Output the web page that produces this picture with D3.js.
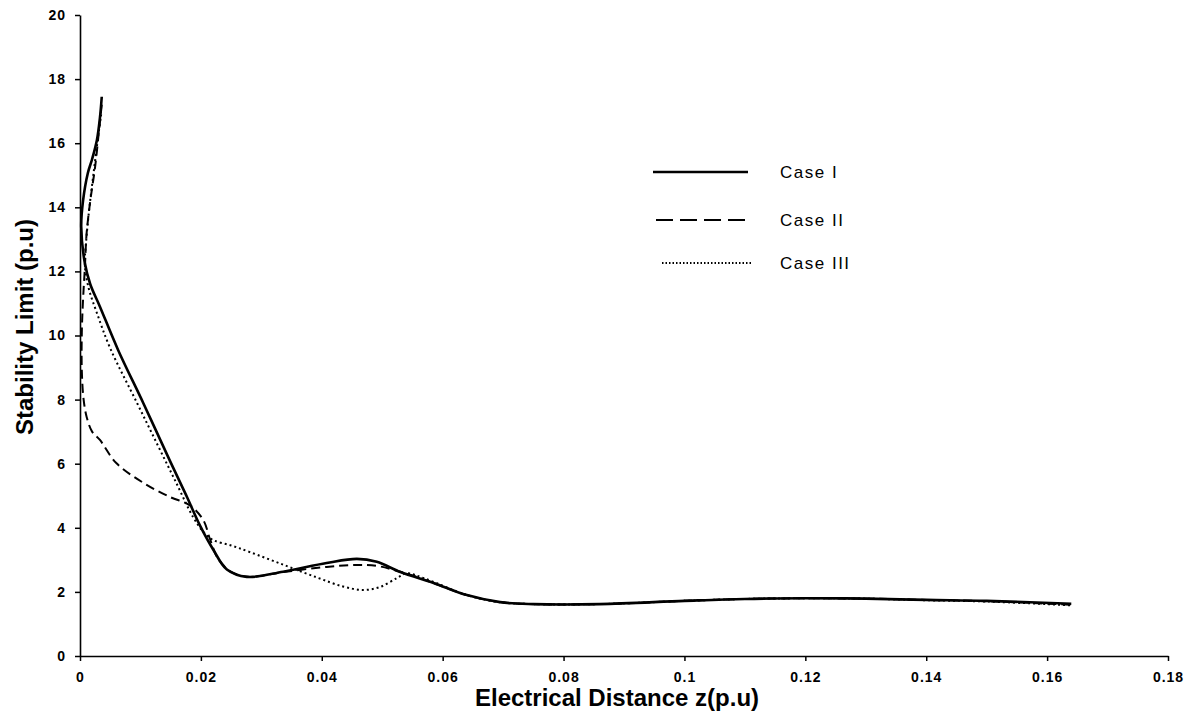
<!DOCTYPE html>
<html>
<head>
<meta charset="utf-8">
<script src="https://cdn.jsdelivr.net/npm/d3@7"></script>
<style>
  body { margin: 0; background: #fff; }
  svg { display: block; }
</style>
</head>
<body>
<div id="chart"></div>
<script>
///////////////////////////////////////////////////////////////////////////
/////////////////// data ////////////////////
///////////////////////////////////////////////////////////////////////////
var zCase1 = [0.0036, 0.0033, 0.0028, 0.0020, 0.0013, 0.0005, 0.0002, 0.0008, 0.0017, 0.0033,
  0.0063, 0.0105, 0.0149, 0.0177, 0.0199, 0.0221, 0.0243, 0.0276, 0.0336, 0.0408,
  0.0458, 0.0491, 0.0530, 0.0585, 0.0640, 0.0695, 0.0750, 0.0860, 0.1000, 0.1100,
  0.1200, 0.1300, 0.1400, 0.1500, 0.1640];
var limCase1 = [17.45, 16.8, 16.1, 15.5, 15.07, 14.2, 13.4, 12.26, 11.6, 10.9,
  9.55, 7.88, 6.08, 4.96, 4.05, 3.3, 2.7, 2.47, 2.63, 2.9,
  3.03, 2.94, 2.62, 2.28, 1.9, 1.68, 1.62, 1.62, 1.72, 1.78,
  1.8, 1.79, 1.75, 1.72, 1.63];

var zCase2 = [0.0036, 0.0032, 0.0025, 0.0017, 0.0011, 0.0008, 0.0005, 0.0003, 0.0003, 0.0006,
  0.0011, 0.0020, 0.0033, 0.0060, 0.0105, 0.0149, 0.0182, 0.0204, 0.0215, 0.0228,
  0.0248, 0.0278, 0.0336, 0.0408, 0.0458, 0.0491, 0.0519, 0.0560, 0.0640, 0.0695,
  0.0750, 0.0860, 0.1000, 0.1100, 0.1200, 0.1300, 0.1400, 0.1500, 0.1640];
var limCase2 = [17.2, 16.5, 15.26, 14.2, 13.2, 12.1, 11.1, 10.1, 8.9, 8.0,
  7.46, 7.0, 6.74, 6.02, 5.4, 4.96, 4.7, 4.24, 3.65, 3.05,
  2.65, 2.47, 2.62, 2.78, 2.84, 2.81, 2.69, 2.45, 1.9, 1.68,
  1.62, 1.62, 1.72, 1.78, 1.8, 1.79, 1.75, 1.71, 1.6];

var zCase3 = [0.0035, 0.0030, 0.0022, 0.0015, 0.0010, 0.0008, 0.0014, 0.0028, 0.0050, 0.0095,
  0.0128, 0.0158, 0.0187, 0.0205, 0.0220, 0.0250, 0.0280, 0.0336, 0.0392, 0.0435,
  0.0468, 0.0496, 0.0524, 0.0540, 0.0570, 0.0640, 0.0695, 0.0750, 0.0860, 0.1000,
  0.1100, 0.1200, 0.1300, 0.1400, 0.1500, 0.1640];
var limCase3 = [16.9, 16.2, 15.0, 13.9, 12.9, 12.2, 11.5, 10.7, 9.6, 7.87,
  6.6, 5.45, 4.34, 3.85, 3.62, 3.45, 3.25, 2.85, 2.45, 2.17,
  2.06, 2.15, 2.43, 2.58, 2.42, 1.9, 1.68, 1.62, 1.62, 1.72,
  1.78, 1.8, 1.79, 1.74, 1.7, 1.58];

var legendLabels = ['Case I', 'Case II', 'Case III'];
var xTicks = [0, 0.02, 0.04, 0.06, 0.08, 0.1, 0.12, 0.14, 0.16, 0.18];
var xTickLabels = ['0', '0.02', '0.04', '0.06', '0.08', '0.1', '0.12', '0.14', '0.16', '0.18'];
var yTicks = [0, 2, 4, 6, 8, 10, 12, 14, 16, 18, 20];

///////////////////////////////////////////////////////////////////////////
/////////////////// set up svg and scales /////////////////////////////////
///////////////////////////////////////////////////////////////////////////
var width = 1192;
var height = 721;
var margin = {top: 15, right: 24, bottom: 65, left: 80};

var svg = d3.select('#chart')
  .append('svg')
  .attr('width', width).attr('height', height);

var x = d3.scaleLinear()
  .domain([0, 0.18])
  .range([margin.left, width - margin.right]);
var y = d3.scaleLinear()
  .domain([0, 20])
  .range([height - margin.bottom, margin.top]);

var font = '"Liberation Sans", Arial, sans-serif';

// zip the z / limit arrays into points
var series = [
  {name: legendLabels[0], z: zCase1, lim: limCase1, width: 2.6, dash: null, legendDash: null},
  {name: legendLabels[1], z: zCase2, lim: limCase2, width: 2, dash: '9,5', legendDash: '17,7'},
  {name: legendLabels[2], z: zCase3, lim: limCase3, width: 2, dash: '2,3', legendDash: '1.5,2'}
].map((s) => {
  s.points = s.z.map((z, i) => [z, s.lim[i]]);
  return s;
});

///////////////////////////////////////////////////////////////////////////
/////////////////// axes //////////////////////////////////////////////////
///////////////////////////////////////////////////////////////////////////
var xAxis = svg.append('g')
  .attr('transform', 'translate(0,' + y(0) + ')')
  .call(d3.axisBottom(x)
    .tickValues(xTicks)
    .tickFormat((d, i) => xTickLabels[i])
    .tickSize(5)
    .tickSizeOuter(0)
    .tickPadding(11));

var yAxis = svg.append('g')
  .attr('transform', 'translate(' + x(0) + ',0)')
  .call(d3.axisLeft(y)
    .tickValues(yTicks)
    .tickFormat(d3.format('d'))
    .tickSize(5)
    .tickSizeOuter(0)
    .tickPadding(9));

[xAxis, yAxis].forEach((g) => {
  g.select('.domain').attr('stroke', '#000').attr('stroke-width', 1.6);
  g.selectAll('.tick line').attr('stroke', '#000').attr('stroke-width', 1.5);
  g.selectAll('.tick text')
    .attr('fill', '#000')
    .style('font-family', font)
    .style('font-weight', 'bold')
    .style('font-size', '14px')
    .style('letter-spacing', '1px');
});

// axis titles
svg.append('text')
  .attr('x', 617).attr('y', 706)
  .attr('text-anchor', 'middle')
  .style('font-family', font)
  .style('font-weight', 'bold')
  .style('font-size', '24px')
  .text('Electrical Distance z(p.u)');

svg.append('text')
  .attr('transform', 'translate(33,327) rotate(-90)')
  .attr('text-anchor', 'middle')
  .style('font-family', font)
  .style('font-weight', 'bold')
  .style('font-size', '24px')
  .text('Stability Limit (p.u)');

///////////////////////////////////////////////////////////////////////////
/////////////////// curves ////////////////////////////////////////////////
///////////////////////////////////////////////////////////////////////////
var line = d3.line()
  .x((d) => x(d[0]))
  .y((d) => y(d[1]))
  .curve(d3.curveCatmullRom.alpha(0.5));

svg.selectAll('path.case')
  .data(series)
  .enter().append('path')
  .attr('class', 'case')
  .attr('fill', 'none')
  .attr('stroke', '#000')
  .attr('stroke-width', (d) => d.width)
  .attr('stroke-dasharray', (d) => d.dash)
  .attr('stroke-linejoin', 'round')
  .attr('d', (d) => line(d.points));

///////////////////////////////////////////////////////////////////////////
/////////////////// legend ////////////////////////////////////////////////
///////////////////////////////////////////////////////////////////////////
var legendY = [172, 220, 263];
var legend = svg.selectAll('g.legend')
  .data(series)
  .enter().append('g')
  .attr('class', 'legend')
  .attr('transform', (d, i) => 'translate(0,' + legendY[i] + ')');

legend.append('line')
  .attr('x1', (d, i) => [653, 656, 662][i])
  .attr('x2', (d, i) => [748, 750, 752][i])
  .attr('stroke', '#000')
  .attr('stroke-width', (d) => d.width)
  .attr('stroke-dasharray', (d) => d.legendDash);

legend.append('text')
  .attr('x', 780)
  .attr('dy', '0.35em')
  .style('font-family', font)
  .style('font-size', '17px')
  .style('letter-spacing', '1.5px')
  .text((d) => d.name);
</script>
</body>
</html>
